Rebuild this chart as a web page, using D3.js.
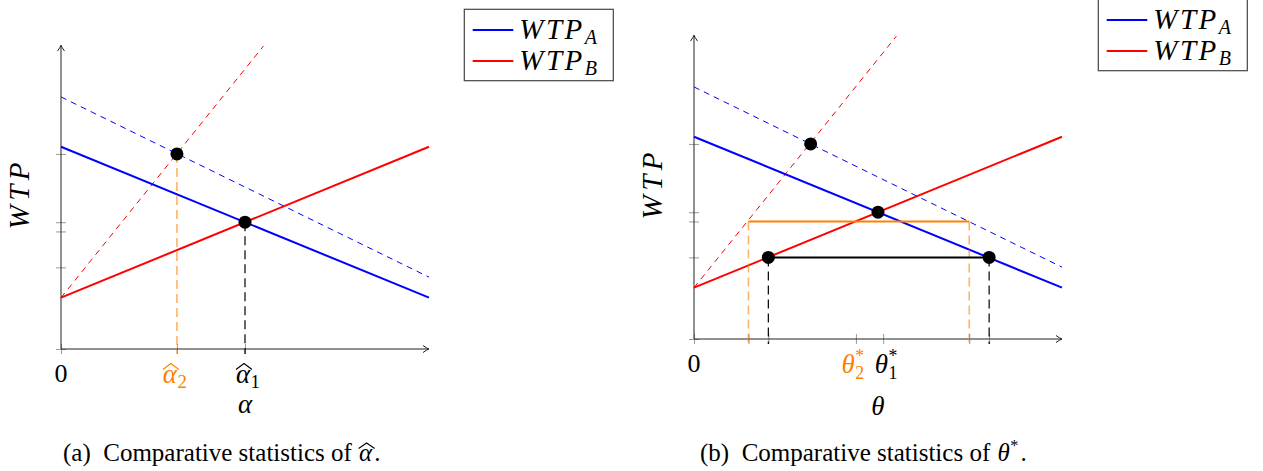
<!DOCTYPE html>
<html>
<head>
<meta charset="utf-8">
<script src="https://cdn.jsdelivr.net/npm/d3@7"></script>
<style>
  body { margin: 0; background: #fff; }
</style>
</head>
<body>
<svg id="chart" width="1263" height="471"></svg>
<script>
// ---- data ----
const xDomain = [0, 10];
const yDomain = [0, 6];
const axisTop = 5.92;

const wtpA = [[0, 3.94], [10, 1.0]];          // solid blue
const wtpB = [[0, 1.0], [10, 3.94]];          // solid red
const wtpAShift = [[0, 4.91], [10, 1.40]];    // dashed blue
const wtpBShift = [[0, 1.0], [5.5, 5.9]];     // dashed red

const yTicks = [0, 1.59, 2.29, 2.47, 3.80];
const xTicksA = [0, 3.15, 5.0];
const xTicksB = [0, 1.48, 2.02, 4.40, 5.14, 7.48, 8.02];

const pointsA = [[3.15, 3.80], [5.0, 2.47]];
const pointsB = [[3.17, 3.80], [5.0, 2.47], [2.02, 1.59], [8.02, 1.59]];

const dropsA = [[3.15, 3.80, "new"], [5.0, 2.47, "old"]];
const dropsB = [[1.48, 2.29, "new"], [7.48, 2.29, "new"], [2.02, 1.59, "old"], [8.02, 1.59, "old"]];

const gapOld = [[2.02, 1.59], [8.02, 1.59]];
const gapNew = [[1.48, 2.29], [7.48, 2.29]];

const legendLabels = [["WTP", "A"], ["WTP", "B"]];

const BLUE = "#0000ff", RED = "#ff0000", ORANGE = "#ff8000";
const SERIF = "Liberation Serif";

const svg = d3.select("#chart");
svg.append("rect").attr("width", 1263).attr("height", 471).attr("fill", "#fff");

const x = d3.scaleLinear().domain(xDomain).range([0, 368]);
const y = d3.scaleLinear().domain(yDomain).range([0, -308]);
const line = d3.line().x(d => x(d[0])).y(d => y(d[1]));

function txt(sel) {
    return sel.append("text").attr("font-family", SERIF);
}

// italic math label: main glyph + optional sub / sup / hat, centred on cx
function mathLabel(g, cx, by, main, opt = {}) {
    const size = opt.size || 27;
    const small = opt.small || 0.7;
    const grp = g.append("g").attr("fill", opt.color || "#000");
    const m = txt(grp).attr("x", 0).attr("y", 0)
        .attr("font-size", size).attr("font-style", "italic").text(main);
    const w = m.node().getComputedTextLength();
    let w2 = 0;
    if (opt.sub) {
        const s = txt(grp).attr("x", w + 0.5).attr("y", size * (opt.sup ? 0.24 : 0.2))
            .attr("font-size", size * small).text(opt.sub);
        w2 = Math.max(w2, s.node().getComputedTextLength() + 0.5);
    }
    if (opt.sup) {
        const s = txt(grp).attr("x", w + 0.5).attr("y", -size * 0.4)
            .attr("font-size", size * small).text(opt.sup);
        w2 = Math.max(w2, s.node().getComputedTextLength() + 0.5);
    }
    if (opt.hat) {
        const hx = w / 2 + 1;
        grp.append("path")
            .attr("d", `M${hx - 8},${-size * 0.5} L${hx},${-size * 0.72} L${hx + 8},${-size * 0.5}`)
            .attr("fill", "none").attr("stroke", opt.color || "#000").attr("stroke-width", 1.1);
    }
    const total = w + w2;
    const shift = opt.anchor === "start" ? 0 : (opt.anchorMain ? -w / 2 : -total / 2);
    grp.attr("transform", `translate(${cx + shift},${by})`);
    return total;
}

function drawPanel(cfg) {
    const g = svg.append("g").attr("transform", `translate(${cfg.ox},${cfg.oy})`);

    // shifted (dashed) curves
    g.append("path").attr("d", line(wtpAShift)).attr("fill", "none")
        .attr("stroke", BLUE).attr("stroke-width", 1).attr("stroke-dasharray", "6,5");
    g.append("path").attr("d", line(wtpBShift)).attr("fill", "none")
        .attr("stroke", RED).attr("stroke-width", 1).attr("stroke-dasharray", "6,5");

    // ticks through d3 axes (shifted so they straddle the axis line)
    const xa = g.append("g").attr("transform", "translate(0,-5)")
        .call(d3.axisBottom(x).tickValues(cfg.xTicks).tickSize(10).tickFormat(""));
    const ya = g.append("g").attr("transform", "translate(5,0)")
        .call(d3.axisLeft(y).tickValues(yTicks).tickSize(10).tickFormat(""));
    [xa, ya].forEach(a => {
        a.select(".domain").remove();
        a.selectAll(".tick line").attr("stroke", "#999").attr("stroke-width", 1);
    });

    // axis lines with arrow tips
    const tip = (x1, y1, dir) => {
        const p = dir === "x"
            ? `M${x1 - 6},${y1 - 3.5} Q${x1 - 2},${y1 - 0.6} ${x1},${y1} Q${x1 - 2},${y1 + 0.6} ${x1 - 6},${y1 + 3.5}`
            : `M${x1 - 3.5},${y1 + 6} Q${x1 - 0.6},${y1 + 2} ${x1},${y1} Q${x1 + 0.6},${y1 + 2} ${x1 + 3.5},${y1 + 6}`;
        g.append("path").attr("d", p).attr("fill", "none").attr("stroke", "#222").attr("stroke-width", 1);
    };
    g.append("line").attr("x1", x(0)).attr("x2", x(10) - 0.5).attr("y1", 0).attr("y2", 0)
        .attr("stroke", "#222").attr("stroke-width", 1);
    g.append("line").attr("x1", 0).attr("x2", 0).attr("y1", y(0)).attr("y2", y(axisTop) + 0.5)
        .attr("stroke", "#222").attr("stroke-width", 1);
    tip(x(10), 0, "x");
    tip(0, y(axisTop), "y");

    // solid curves
    g.append("path").attr("d", line(wtpA)).attr("fill", "none").attr("stroke", BLUE).attr("stroke-width", 2);
    g.append("path").attr("d", line(wtpB)).attr("fill", "none").attr("stroke", RED).attr("stroke-width", 2);

    // drop lines to the axis
    g.selectAll(".drop").data(cfg.drops).enter().append("line")
        .attr("x1", d => x(d[0])).attr("x2", d => x(d[0]))
        .attr("y1", d => y(d[1])).attr("y2", 5)
        .attr("stroke", d => d[2] === "new" ? ORANGE : "#000")
        .attr("stroke-opacity", d => d[2] === "new" ? 0.6 : 1)
        .attr("stroke-width", d => d[2] === "new" ? 1.6 : 1.2)
        .attr("stroke-dasharray", "9,5");

    // horizontal gaps
    if (cfg.gaps) {
        g.append("path").attr("d", line(gapNew)).attr("stroke", ORANGE).attr("stroke-width", 2).attr("fill", "none");
        g.append("path").attr("d", line(gapOld)).attr("stroke", "#000").attr("stroke-width", 2).attr("fill", "none");
    }

    // points
    g.selectAll(".pt").data(cfg.points).enter().append("circle")
        .attr("cx", d => x(d[0])).attr("cy", d => y(d[1])).attr("r", 6.5).attr("fill", "#000");

    // labels
    txt(g).attr("x", x(0)).attr("y", 33).attr("text-anchor", "middle")
        .attr("font-size", 26).text("0");
    cfg.tickLabels(g);
    mathLabel(g, x(cfg.titleX), cfg.titleY, cfg.title, { size: 27 });
    txt(g).attr("transform", `translate(-32,${y(2.98)}) rotate(-90)`)
        .attr("text-anchor", "middle").attr("font-size", 29).attr("font-style", "italic")
        .attr("textLength", 67).attr("lengthAdjust", "spacing").text("WTP");

    // legend
    const lg = svg.append("g").attr("transform", `translate(${cfg.lx},${cfg.ly})`);
    lg.append("rect").attr("width", 149).attr("height", 71.4).attr("fill", "#fff")
        .attr("stroke", "#444").attr("stroke-width", 1.2);
    legendLabels.forEach((lab, i) => {
        const yy = 20.7 + i * 31;
        lg.append("line").attr("x1", 8.4).attr("x2", 49).attr("y1", yy).attr("y2", yy)
            .attr("stroke", i === 0 ? BLUE : RED).attr("stroke-width", 2);
        const t = txt(lg).attr("x", 55).attr("y", yy + 9.5).attr("font-size", 29).attr("font-style", "italic");
        t.append("tspan").attr("textLength", 63).attr("lengthAdjust", "spacing").text(lab[0]);
        t.append("tspan").attr("font-size", 20).attr("dy", 5).text(lab[1]);
    });

    // caption
    const cap = svg.append("g").attr("transform", `translate(${cfg.cx},461)`);
    const c1 = txt(cap).attr("font-size", 25).attr("xml:space", "preserve").text(cfg.caption);
    const cw = c1.node().getComputedTextLength();
    let mw;
    if (cfg.id === "a") {
        mw = mathLabel(cap, cw + 1, 0, "α", { size: 25, hat: true, anchor: "start" });
    } else {
        mw = mathLabel(cap, cw + 1, 0, "θ", { size: 25, sup: "*", small: 0.65, anchor: "start" });
    }
    txt(cap).attr("x", cw + mw + 3).attr("font-size", 25).text(".");
}

drawPanel({
    id: "a", ox: 61, oy: 349, xTicks: xTicksA, points: pointsA, drops: dropsA, gaps: false,
    title: "α", titleX: 5.0, titleY: 64, lx: 464.3, ly: 9.3, cx: 63,
    caption: "(a)  Comparative statistics of ",
    tickLabels: g => {
        mathLabel(g, x(3.15) - 7, 34, "α", { color: ORANGE, hat: true, sub: "2", anchorMain: true });
        mathLabel(g, x(5.0) - 2, 34, "α", { hat: true, sub: "1", anchorMain: true });
    }
});

drawPanel({
    id: "b", ox: 694, oy: 339, xTicks: xTicksB, points: pointsB, drops: dropsB, gaps: true,
    title: "θ", titleX: 5.0, titleY: 76, lx: 1098.3, ly: -0.7, cx: 700,
    caption: "(b)  Comparative statistics of ",
    tickLabels: g => {
        mathLabel(g, x(4.40) - 3, 34, "θ", { color: ORANGE, sub: "2", sup: "*", small: 0.66 });
        mathLabel(g, x(5.14) + 3, 34, "θ", { sub: "1", sup: "*", small: 0.66 });
    }
});
</script>
</body>
</html>
